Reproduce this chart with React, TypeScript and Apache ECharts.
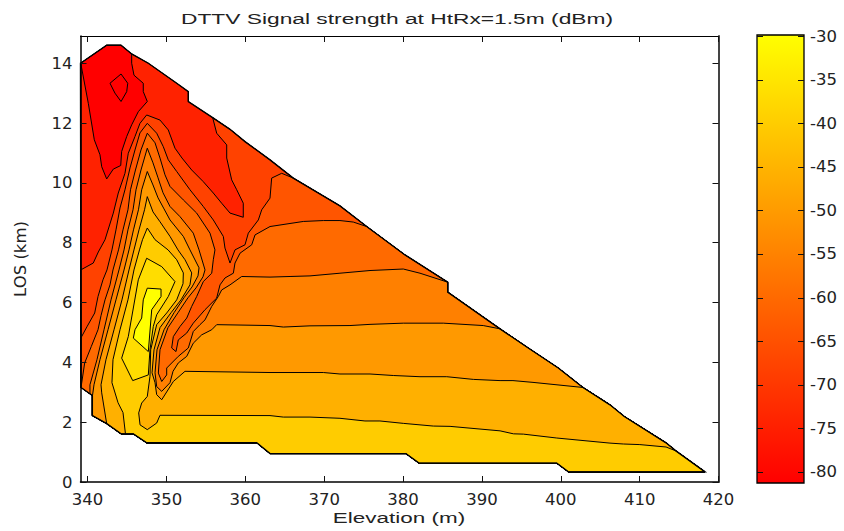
import React, { useEffect, useRef } from "react";
import * as echarts from "echarts";

const xTicks = [340, 350, 360, 370, 380, 390, 400, 410, 420];
const yTicks = [0, 2, 4, 6, 8, 10, 12, 14];
const barTicks = [-30, -35, -40, -45, -50, -55, -60, -65, -70, -75, -80];
const barRange = [-81.3, -29.85];

// Edge of the measured area, clockwise, [elevation m, LOS km]
const edge = [[339.1,14.0],[342.42,14.6],[344.24,14.6],[345.59,14.31],[347.7,14.0],[351.3,13.33],[352.77,13.05],[352.77,12.72],[355.86,12.18],[358.06,11.79],[359.96,11.38],[363.13,10.77],[366.08,10.16],[372.0,9.23],[375.39,8.54],[380.25,7.59],[385.66,6.68],[385.66,6.35],[392.3,5.12],[395.88,4.48],[399.69,3.81],[402.82,3.16],[406.24,2.58],[408.06,2.19],[413.35,1.31],[414.6,1.04],[418.29,0.34],[400.96,0.34],[399.49,0.63],[382.02,0.63],[380.37,0.95],[363.13,0.95],[361.44,1.31],[347.49,1.31],[345.8,1.61],[344.24,1.61],[342.42,1.95],[340.6,2.22],[340.6,2.89],[339.16,3.16]];

const lowRegion = [[339.13,14.0],[340.09,12.66],[340.85,11.44],[341.57,10.94],[341.79,10.54],[342.42,10.13],[343.26,10.46],[344.2,10.58],[344.32,11.05],[344.96,11.55],[345.59,11.94],[346.43,12.38],[347.57,12.72],[347.06,13.05],[347.06,13.33],[345.88,13.6],[345.59,14.0],[345.59,14.31],[344.24,14.6],[342.42,14.6]];
const lowIsland = [[342.84,13.33],[344.24,13.64],[345.09,13.33],[344.96,13.05],[344.24,12.72],[343.47,13.0]];

const line2 = [[339.13,7.09],[340.72,7.32],[341.36,7.69],[342.21,8.10],[343.26,8.99],[343.89,9.66],[344.74,10.32],[345.16,10.99],[346.01,11.55],[346.64,11.99],[347.49,12.27],[349.18,12.10],[350.23,11.77],[351.08,11.16],[351.97,10.83],[353.20,10.43],[354.67,10.04],[355.94,9.66],[357.0,9.32],[358.06,8.99],[359.74,8.85],[359.74,9.32],[358.91,9.77],[358.27,10.10],[357.64,10.83],[357.64,11.27],[356.37,11.66]];
const line3 = [[339.16,4.82],[339.92,5.19],[340.9,5.65],[341.32,6.2],[341.95,6.76],[342.46,7.09],[343.09,7.76],[343.6,8.43],[344.11,9.16],[344.74,9.77],[345.38,10.5],[346.01,11.1],[346.64,11.67],[347.57,11.99],[348.76,11.66],[349.6,11.21],[350.23,10.77],[351.3,10.38],[352.98,9.77],[354.67,9.21],[355.94,8.76],[357.21,8.21],[357.42,7.82],[358.06,7.32],[358.69,7.76],[359.96,7.93],[360.38,8.32],[361.65,8.76],[362.08,9.1],[363.13,9.49],[363.34,10.16],[364.61,10.32]];
const line4 = [[339.2,3.22],[339.63,3.98],[340.47,4.53],[341.32,5.09],[341.7,5.56],[342.21,6.09],[342.84,6.59],[343.22,7.09],[343.92,7.76],[344.49,8.43],[345.12,9.1],[345.44,9.77],[346.07,10.43],[346.77,11.1],[347.57,11.66],[348.55,11.34],[349.18,10.83],[349.81,10.27],[350.45,9.88],[352.14,9.43],[353.83,8.99],[355.52,8.32],[356.15,7.76],[355.94,7.43],[355.74,6.98],[354.67,6.7],[353.83,6.2],[353.2,5.87],[352.57,5.48],[351.72,5.2],[350.87,4.86],[350.66,4.48],[351.21,4.36],[351.5,4.75],[352.57,4.98],[353.4,5.31],[354.89,5.76],[356.37,6.15],[356.79,6.59],[357.42,6.82],[358.48,6.98],[358.69,7.32],[359.33,7.65],[360.81,7.93],[361.23,8.26],[363.13,8.54],[367.35,8.71],[369.89,8.74],[372.0,8.74],[373.69,8.69]];
const line5 = [[340.3,2.95],[340.3,3.25],[341.19,4.09],[342.08,5.09],[342.97,6.09],[343.98,7.09],[344.62,7.76],[345.12,8.43],[345.76,9.1],[346.14,9.77],[346.77,10.43],[347.57,11.16],[348.29,10.67],[348.93,10.17],[349.56,9.67],[350.45,9.21],[351.72,8.87],[353.4,8.32],[354.13,7.76],[354.89,7.09],[354.63,6.86],[353.75,6.49],[352.73,6.16],[351.46,5.66],[350.19,5.16],[349.18,4.42],[348.97,3.64],[349.4,3.36],[350.03,3.58],[350.03,3.81],[351.5,4.2],[352.77,4.48],[353.4,5.03],[354.25,5.26],[354.89,5.42],[355.74,5.87],[356.57,6.2],[357.0,6.42],[358.06,6.59],[359.54,6.87],[363.13,6.85],[365.67,6.87],[368.2,6.89],[372.0,6.98],[375.81,7.07],[380.03,7.12],[382.15,6.98]];
const line6 = [[340.6,2.85],[340.81,3.25],[341.57,4.09],[342.59,5.09],[343.6,6.09],[344.62,7.09],[345.25,7.76],[345.82,8.43],[346.45,9.1],[346.86,9.77],[347.57,10.38],[348.29,9.93],[348.93,9.5],[349.69,9.13],[350.45,8.76],[352.14,8.21],[352.98,7.76],[354.13,7.16],[354.0,6.89],[353.24,6.52],[352.22,6.16],[350.96,5.66],[349.69,5.09],[348.8,4.42],[348.55,3.65],[348.76,3.19],[349.4,3.03],[350.45,3.32],[350.83,3.7],[351.5,3.98],[352.57,4.2],[353.4,4.64],[354.47,4.92],[355.74,5.09],[356.37,5.26],[363.13,5.23],[364.82,5.18],[368.2,5.22],[373.27,5.23],[375.81,5.27],[380.03,5.31],[385.1,5.31],[390.17,5.23]];
const line7 = [[341.79,2.98],[341.7,3.25],[342.33,4.09],[343.35,5.09],[344.36,6.09],[345.25,7.09],[345.88,7.76],[346.52,8.43],[347.22,9.1],[347.57,9.54],[348.29,9.03],[349.18,8.7],[350.45,8.21],[351.46,7.76],[352.35,7.43],[353.2,6.99],[352.98,6.59],[351.84,6.09],[350.58,5.66],[349.18,5.16],[348.42,4.42],[348.17,3.65],[348.55,3.32],[348.76,2.92],[349.4,2.75],[350.87,3.36],[352.35,3.7],[363.13,3.66],[369.89,3.66],[372.0,3.61],[375.81,3.61],[378.76,3.56],[382.15,3.52],[385.54,3.52],[388.91,3.43],[392.3,3.39],[393.94,3.39],[396.48,3.33]];
const line8 = [[344.8,1.61],[344.49,2.32],[343.86,2.65],[343.09,3.32],[343.22,4.09],[344.11,5.09],[345.12,6.09],[345.88,7.09],[346.58,7.76],[346.96,8.1],[347.57,8.49],[348.55,8.1],[350.2,7.76],[351.3,7.43],[352.14,6.99],[352.1,6.63],[351.3,6.09],[350.03,5.65],[348.76,5.26],[348.0,4.42],[347.91,3.53],[347.57,2.86],[346.86,2.64],[346.48,2.31],[346.65,1.91],[347.57,1.75],[348.76,1.97],[349.18,2.23],[363.13,2.22],[364.82,2.17],[368.2,2.17],[372.0,2.13],[375.17,2.04],[377.07,2.04],[380.03,1.96],[383.84,1.87],[385.96,1.86],[392.3,1.71],[394.0,1.61],[395.26,1.6],[399.49,1.47],[406.24,1.3],[407.93,1.27],[410.03,1.25],[413.35,1.17]];
const line9 = [[347.49,7.48],[349.4,7.2],[351.08,6.7],[350.23,6.2],[348.76,5.59],[348.33,5.2],[347.91,4.42],[347.7,3.58],[345.72,3.39],[344.32,4.14],[345.16,4.86],[346.43,6.76]];
const line10 = [[347.57,6.48],[349.31,6.45],[349.31,6.2],[348.13,5.76],[347.7,4.36],[345.8,4.81],[346.01,5.09],[346.86,5.48],[347.06,6.09]];

const bandColors = ["#ff2200", "#ff0000", "#ff0000", "#ff4200", "#ff5500", "#ff6a00", "#ff8000", "#ff9900", "#ffb000", "#ffcc00", "#ffdd00", "#ffff00", "none"];

const bands = [
  edge,
  lowRegion,
  lowIsland,
  [...line2, ...edge.slice(8)],
  [...line3, ...edge.slice(12)],
  [...line4, ...edge.slice(14)],
  [...line5, ...edge.slice(16, 39)],
  [...line6, ...edge.slice(18, 38)],
  [...line7, ...edge.slice(21, 37)],
  [...line8, ...edge.slice(25, 35)],
  line9,
  line10,
  edge,
];

const TICK_FONT = "DejaVu Sans";
const TEXT_FONT = "Liberation Sans";
const INK = "#222222";
const titleText = "DTTV Signal strength at HtRx=1.5m (dBm)";
const xName = "Elevation (m)";

export default function App() {
  const ref = useRef<HTMLDivElement>(null);
  useEffect(() => {
    const chart = echarts.init(ref.current!, undefined, { renderer: "svg" });
    const label = { color: INK, fontFamily: TICK_FONT, fontSize: 16.5 };
    const tickIn = { inside: true, length: 6, lineStyle: { color: "#111", width: 1 } };
    chart.setOption({
      animation: false,
      backgroundColor: "#ffffff",
      graphic: [
        {
          type: "text", x: 397, y: 18, scaleX: 1.47, silent: true,
          style: { text: titleText, fontFamily: TEXT_FONT, fontSize: 15.5, fill: INK, textAlign: "center", textVerticalAlign: "middle" },
        },
        {
          type: "text", x: 399, y: 518, scaleX: 1.45, silent: true,
          style: { text: xName, fontFamily: TEXT_FONT, fontSize: 15.5, fill: INK, textAlign: "center", textVerticalAlign: "middle" },
        },
      ],
      grid: [
        { left: 80.5, top: 36, width: 638, height: 446 },
        { left: 757, top: 35, width: 47, height: 448 },
      ],
      xAxis: [
        {
          type: "value", gridIndex: 0, min: 339.1, max: 420, position: "bottom", z: 3,
          axisLine: { show: true, lineStyle: { color: "#000", width: 1.5 } },
          axisTick: { ...tickIn, customValues: xTicks },
          axisLabel: { ...label, margin: 9, customValues: xTicks, formatter: (v: number) => String(v) },
          splitLine: { show: false },
        },
        {
          type: "value", gridIndex: 0, min: 339.1, max: 420, position: "top", z: 3,
          axisLine: { show: true, onZero: false, lineStyle: { color: "#000", width: 1 } },
          axisTick: { ...tickIn, customValues: xTicks },
          axisLabel: { show: false }, splitLine: { show: false },
        },
        {
          type: "value", gridIndex: 1, min: 0, max: 1, position: "bottom",
          axisLine: { show: false }, axisTick: { show: false }, axisLabel: { show: false }, splitLine: { show: false },
        },
      ],
      yAxis: [
        {
          type: "value", gridIndex: 0, min: 0, max: 14.91, position: "left", z: 3,
          name: "LOS (km)", nameLocation: "middle", nameGap: 52, nameRotate: 90,
          nameTextStyle: { ...label },
          axisLine: { show: true, lineStyle: { color: "#000", width: 1.5 } },
          axisTick: { ...tickIn, customValues: yTicks },
          axisLabel: { ...label, margin: 8, customValues: yTicks, formatter: (v: number) => String(v) },
          splitLine: { show: false },
        },
        {
          type: "value", gridIndex: 0, min: 0, max: 14.91, position: "right", z: 3,
          axisLine: { show: true, onZero: false, lineStyle: { color: "#444", width: 2 } },
          axisTick: { ...tickIn, customValues: yTicks },
          axisLabel: { show: false }, splitLine: { show: false },
        },
        {
          type: "value", gridIndex: 1, min: barRange[0], max: barRange[1], position: "right",
          axisLine: { show: false }, axisTick: { show: false },
          axisLabel: { ...label, margin: 6, customValues: barTicks, formatter: (v: number) => String(v) },
          splitLine: { show: false },
        },
      ],
      series: [
        {
          type: "custom", coordinateSystem: "cartesian2d", xAxisIndex: 0, yAxisIndex: 0,
          clip: false, silent: true, z: -1,
          data: bands.map((_, i) => [i, 0]),
          renderItem: (_p: any, api: any) => {
            const i = api.value(0) as number;
            const isEdge = i === bands.length - 1;
            return {
              type: "polygon",
              shape: { points: bands[i].map((pt) => api.coord(pt)) },
              style: { fill: bandColors[i], stroke: "#000", lineWidth: isEdge ? 1.4 : 1 },
            };
          },
        },
        {
          type: "custom", coordinateSystem: "cartesian2d", xAxisIndex: 2, yAxisIndex: 2,
          silent: true, z: 5, clip: false,
          data: [[0, barRange[1]]],
          renderItem: (_p: any, api: any) => {
            const a = api.coord([0, barRange[1]]);
            const b = api.coord([1, barRange[0]]);
            const tickStyle = { stroke: "#111", lineWidth: 1 };
            const marks: any[] = [];
            barTicks.forEach((t) => {
              const y = Math.round(api.coord([0, t])[1]) + 0.5;
              marks.push({ type: "line", shape: { x1: a[0], y1: y, x2: a[0] + 6, y2: y }, style: tickStyle });
              marks.push({ type: "line", shape: { x1: b[0] - 6, y1: y, x2: b[0], y2: y }, style: tickStyle });
            });
            return {
              type: "group",
              children: [
                {
                  type: "rect",
                  shape: { x: a[0], y: a[1], width: b[0] - a[0], height: b[1] - a[1] },
                  style: {
                    fill: new echarts.graphic.LinearGradient(0, 0, 0, 1, [
                      { offset: 0, color: "#ffff00" },
                      { offset: 1, color: "#ff0000" },
                    ]),
                    stroke: "#000",
                    lineWidth: 1.3,
                  },
                },
                ...marks,
              ],
            };
          },
        },
      ],
    });
    return () => chart.dispose();
  }, []);
  return <div ref={ref} style={{ position: "absolute", left: 0, top: 0, width: 844, height: 531 }} />;
}
